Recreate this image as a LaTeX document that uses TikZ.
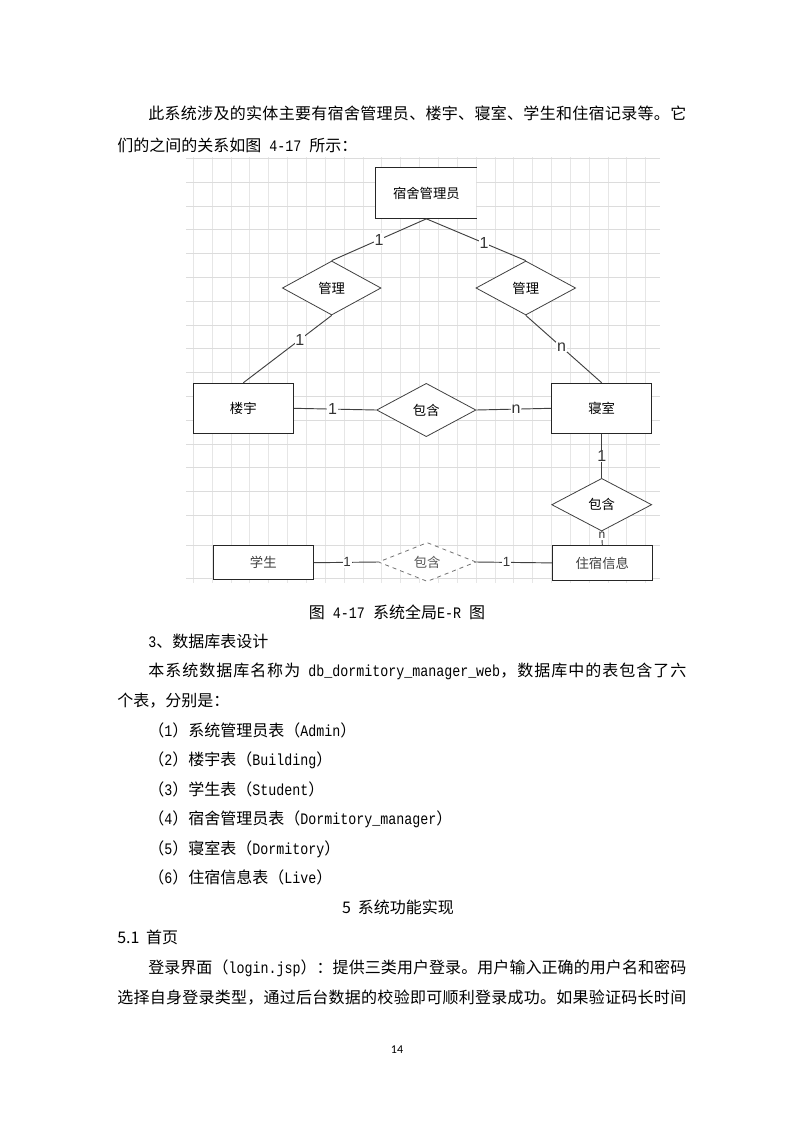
\documentclass[tikz,border=0pt]{standalone}
\usepackage{fontspec}
\setmainfont{Noto Sans CJK SC}
\newfontfamily\lm{Liberation Mono}[FakeStretch=0.8333]
\newfontfamily\lsans{Liberation Sans}
\newfontfamily\carl{Carlito}
\usetikzlibrary{shapes.geometric}
\XeTeXinterchartokenstate=1
\newXeTeXintercharclass\CJKcls
\count255="3000
\loop
 \XeTeXcharclass\count255=\CJKcls
 \advance\count255 by 1
\ifnum\count255<"A000 \repeat
\count255="FF00
\loop
 \XeTeXcharclass\count255=\CJKcls
 \advance\count255 by 1
\ifnum\count255<"FF60 \repeat
\XeTeXinterchartoks\CJKcls\CJKcls={\hskip0pt plus 1fil\relax}
\XeTeXinterchartoks\CJKcls 0 ={\hskip0pt plus 1fil\relax}
\XeTeXinterchartoks 0 \CJKcls={\hskip0pt plus 1fil\relax}
\definecolor{gridv}{HTML}{E6E6E6}
\definecolor{gridh}{HTML}{DCDCDC}
\definecolor{linec}{HTML}{404040}
\begin{document}
\begin{tikzpicture}[x=0.75pt,y=-0.75pt,
  ent/.style={draw=black!85, line width=0.8pt, minimum width=75pt, minimum height=37.5pt, inner sep=0pt, fill=white, font=\fontsize{10}{12}\selectfont},
  entline/.style={draw=black!85, line width=0.8pt},
  rel/.style={diamond, draw=linec, line width=0.6pt, inner sep=0pt, fill=white, font=\fontsize{10}{12}\selectfont},
  conn/.style={draw=linec, line width=0.7pt},
  card/.style={fill=white, inner sep=0.6pt, font=\lsans\fontsize{12}{12}\selectfont, text=black!80},
  body/.style={anchor=base west, inner sep=0pt, font=\fontsize{12}{14}\selectfont},
  cbody/.style={anchor=base, inner sep=0pt, font=\fontsize{12}{14}\selectfont},
  gv/.style={draw=gridv, line width=0.6pt},
  gh/.style={draw=gridh, line width=0.6pt}]
\useasboundingbox (0,0) rectangle (793,1122);
\fill[white] (0,0) rectangle (793,1122);

% ---- body text above figure
\node[body] (t1) at (148,119) {\makebox[403.5pt][s]{此系统涉及的实体主要有宿舍管理员、楼宇、寝室、学生和住宿记录等。它}};
\node[body] (t2) at (117,151) {们的之间的关系如图{\lm\ 4-17\ }所示：};

% ---- grid background
\foreach \i in {0,...,24} \draw[gv] ({193.3+18.85*\i},157) -- ({193.3+18.85*\i},583);
\foreach \j in {0,...,15} \draw[gh] (186,{158.3+23.8*\j}) -- (660,{158.3+23.8*\j});
\draw[gh] (186,545) -- (660,545);
\draw[gh] (186,578) -- (660,578);

% ---- entities
\node[ent, draw=none] (mgr) at (426.4,193.3) {\raisebox{-2pt}{宿舍管理员}};
\draw[entline] (mgr.north east) -- (mgr.north west) -- (mgr.south west) -- (mgr.south east);
\node[ent] (ly) at (243.3,408.3) {楼宇};
\node[ent] (qs) at (601.7,408.3) {寝室};
\node[ent, minimum height=25.8pt, text=black!75] (xs) at (263.3,562.7) {学生};
\node[ent, minimum height=25.8pt, text=black!75] (zs) at (602.3,562.9) {住宿信息};

% ---- relationships
\node[rel, minimum width=74pt, minimum height=40.5pt] (gl1) at (331.7,288) {管理};
\node[rel, minimum width=74.8pt, minimum height=40.5pt] (gl2) at (525.8,288) {管理};
\node[rel, minimum width=74.5pt, minimum height=40pt] (bh1) at (426.3,410) {包含};
\node[rel, minimum width=75pt, minimum height=39.5pt] (bh2) at (601.7,504.7) {包含};
\node[rel, dashed, draw=black!55, minimum width=73.3pt, minimum height=28pt, text=black!65] (bh3) at (427.2,562) {包含};

% ---- connectors
\draw[conn] (mgr.south) -- (gl1.north) node[card, midway] {1};
\draw[conn] (mgr.south) -- (gl2.north) node[card, pos=0.58] {1};
\draw[conn] (gl1.south) -- (ly.north) node[card, pos=0.36] {1};
\draw[conn] (gl2.south) -- (qs.north) node[card, pos=0.47] {n};
\draw[conn] (ly.east) -- (bh1.west) node[card, pos=0.47] {1};
\draw[conn] (bh1.east) -- (qs.west) node[card, pos=0.53] {n};
\draw[conn] (qs.south) -- (bh2.north) node[card, midway] {1};
\draw[conn] (bh2.south) -- (zs.north) node[card, pos=0.3, font=\lsans\fontsize{9}{9}\selectfont] {n};
\draw[conn] (xs.east) -- (bh3.west) node[card, pos=0.52, font=\lsans\fontsize{10}{10}\selectfont] {1};
\draw[conn] (bh3.east) -- (zs.west) node[card, pos=0.4, font=\lsans\fontsize{10}{10}\selectfont] {1};

% ---- text below figure
\node[cbody] (cap) at (397,618) {图{\lm\ 4-17\ }系统全局{\lm E-R\ }图};
\node[body] (t3) at (148,647) {{\lm 3}、数据库表设计};
\node[body] (t4) at (148,676) {\makebox[403.5pt][s]{本系统数据库名称为{\lm\ db\_dormitory\_manager\_web}，数据库中的表包含了六}};
\node[body] (t5) at (117,706) {个表，分别是：};
\node[body] (l1) at (148,736) {（{\lm 1}）系统管理员表（{\lm Admin}）};
\node[body] (l2) at (148,765) {（{\lm 2}）楼宇表（{\lm Building}）};
\node[body] (l3) at (148,795) {（{\lm 3}）学生表（{\lm Student}）};
\node[body] (l4) at (148,824) {（{\lm 4}）宿舍管理员表（{\lm Dormitory\_manager}）};
\node[body] (l5) at (148,854) {（{\lm 5}）寝室表（{\lm Dormitory}）};
\node[body] (l6) at (148,883) {（{\lm 6}）住宿信息表（{\lm Live}）};
\node[cbody] (h5) at (398,913) {5\hspace{5pt}系统功能实现};
\node[body] (h51) at (117,943) {5.1\hspace{5pt}首页};
\node[body] (t6) at (148,973) {\makebox[403.5pt][s]{登录界面（{\lm login.jsp}）：提供三类用户登录。用户输入正确的用户名和密码}};
\node[body] (t7) at (117,1003) {\makebox[426.75pt][s]{选择自身登录类型，通过后台数据的校验即可顺利登录成功。如果验证码长时间}};
\node[font=\carl\fontsize{9}{10}\selectfont, inner sep=0pt] (pg) at (397,1050) {14};
\end{tikzpicture}
\end{document}
